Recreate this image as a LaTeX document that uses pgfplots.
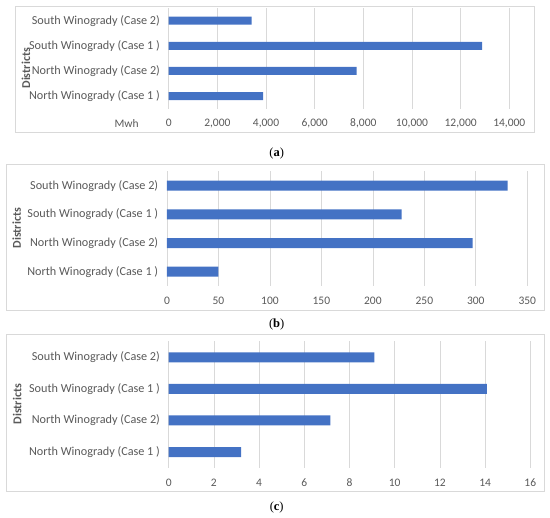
\documentclass[border=0pt]{standalone}
\usepackage{fontspec}
\setmainfont{Carlito}
\newfontfamily\capfont{Liberation Serif}
\usepackage{pgfplots}
\pgfplotsset{compat=1.18}
\definecolor{barblue}{HTML}{4472C4}
\definecolor{txtgray}{HTML}{595959}
\definecolor{gridgray}{HTML}{D9D9D9}
\pgfplotsset{
 panel/.style={
  xbar, scale only axis, anchor=south west, clip=false,
  ymin=-0.5, ymax=3.5, ytick={0,1,2,3},
  yticklabels={North Winogrady (Case 1 ), North Winogrady (Case 2), South Winogrady (Case 1 ), South Winogrady (Case 2)},
  xmin=0, axis line style={draw=none}, tick style={draw=none},
  xmajorgrids, major grid style={gridgray, line width=0.75pt},
  xticklabel style={font=\fontsize{11.5}{13}\selectfont, text=txtgray, anchor=base, yshift=-18.4pt},
  yticklabel style={font=\fontsize{12.2}{14}\selectfont, text=txtgray, anchor=east, xshift=-1pt},
  scaled x ticks=false,
  /pgf/number format/1000 sep={,},
  /pgf/number format/assume math mode=true,
 }
}
\begin{document}
\begin{tikzpicture}
\path[use as bounding box] (0pt,0pt) rectangle (550pt,518pt);
% frames
\draw[gridgray, line width=0.75pt] (15.7pt,385.5pt) rectangle (534.3pt,511.7pt);
\draw[gridgray, line width=0.75pt] (6pt,208pt) rectangle (544pt,353.5pt);
\draw[gridgray, line width=0.75pt] (6pt,26.5pt) rectangle (544pt,183.7pt);

% (a)
\begin{axis}[panel, at={(168.7pt,409.4pt)}, width=340.6pt, height=100.5pt,
  xmax=14000, xtick distance=2000, bar width=8pt]
\addplot[fill=barblue, draw=none] coordinates {(3880,0) (7720,1) (12880,2) (3410,3)};
\end{axis}
\node[text=txtgray, font=\fontsize{11.5}{13}\selectfont] at (126.7pt,394.7pt) {Mwh};
\node[text=txtgray, font=\fontsize{12}{14}\selectfont\bfseries, rotate=90] at (26pt,449.7pt) {Districts};
\node[font=\capfont\fontsize{12.5}{14}\selectfont] at (276.7pt,364.7pt) {(\textbf{a})};

% (b)
\begin{axis}[panel, at={(167pt,232pt)}, width=360.3pt, height=114.6pt,
  xmax=350, xtick distance=50, bar width=10pt]
\addplot[fill=barblue, draw=none] coordinates {(50,0) (297,1) (228,2) (331,3)};
\end{axis}
\node[text=txtgray, font=\fontsize{12}{14}\selectfont\bfseries, rotate=90] at (16.7pt,289.8pt) {Districts};
\node[font=\capfont\fontsize{12.5}{14}\selectfont] at (276.7pt,193pt) {(\textbf{b})};

% (c)
\begin{axis}[panel, at={(168.7pt,50.2pt)}, width=361.6pt, height=126.3pt,
  xmax=16, xtick distance=2, bar width=10pt]
\addplot[fill=barblue, draw=none] coordinates {(3.2,0) (7.15,1) (14.08,2) (9.1,3)};
\end{axis}
\node[text=txtgray, font=\fontsize{12}{14}\selectfont\bfseries, rotate=90] at (17.3pt,113.8pt) {Districts};
\node[font=\capfont\fontsize{12.5}{14}\selectfont] at (276.7pt,10.7pt) {(\textbf{c})};
\end{tikzpicture}
\end{document}
